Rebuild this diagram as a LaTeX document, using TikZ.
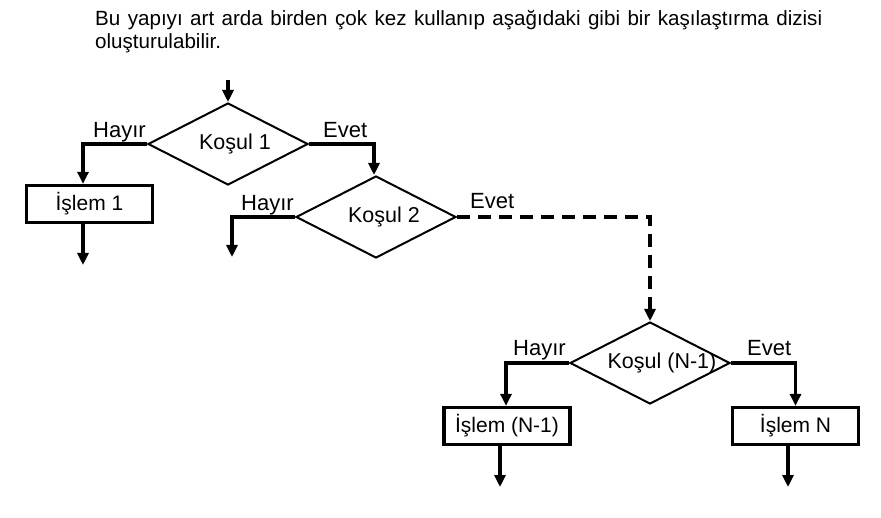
\documentclass[tikz,border=0pt]{standalone}
\usepackage{fontspec}
\setmainfont{Liberation Sans}
\usetikzlibrary{shapes.geometric,arrows.meta}
\tikzset{
  dia/.style={draw,shape=diamond,line width=2pt,minimum width=160pt,minimum height=82pt,inner sep=0pt,aspect=1.95},
  box/.style={draw,rectangle,line width=3.3pt,minimum width=126pt,minimum height=37pt,inner sep=0pt,font=\fontsize{21}{24}\selectfont},
  conn/.style={line width=3.2pt,-{Triangle[width=11pt,length=12pt]}},
  dconn/.style={conn,dash pattern=on 13pt off 8pt},
  lbl/.style={font=\fontsize{22}{24}\selectfont,inner sep=0pt},
  dtext/.style={font=\fontsize{21.5}{24}\selectfont,inner sep=0pt},
  ttl/.style={anchor=base west,inner sep=0pt,font=\fontsize{20.6}{23}\selectfont}
}
\begin{document}
\begin{tikzpicture}[x=1pt,y=-1pt]
\useasboundingbox (0,0) rectangle (881,518);
\node[ttl] (title1) at (95,26)
  {\makebox[727pt][s]{Bu yapıyı art arda birden çok kez kullanıp aşağıdaki gibi bir kaşılaştırma dizisi}};
\node[ttl] (title2) at (95,49) {oluşturulabilir.};
% nodes
\coordinate (s0) at (228,80);
\node[dia] (k1) at (228,144) {};
\node[dtext] at ([xshift=7pt]k1.center) {Koşul 1};
\node[box] (b1) at (89.5,204) {İşlem 1};
\coordinate (e1) at (83,265);
\node[dia] (k2) at (376,217) {};
\node[dtext] at ([xshift=8pt]k2.center) {Koşul 2};
\coordinate (e2) at (232,257);
\node[dia] (kn) at (650,363) {};
\node[dtext] at ([xshift=12pt]kn.center) {Koşul (N-1)};
\node[box] (bn1) at (507,426) {İşlem (N-1)};
\coordinate (e3) at (500,487);
\node[box] (bn) at (795.5,426) {İşlem N};
\coordinate (e4) at (788,487);
% connectors
\draw[conn] (s0) -- (k1.north);
\draw[conn] (k1.west) -| ([xshift=-6.5pt]b1.north);
\draw[conn] ([xshift=-6.5pt]b1.south) -- (e1);
\draw[conn] (k1.east) -| ([xshift=-2pt]k2.north);
\draw[conn] (k2.west) -| (e2);
\draw[dconn] (k2.east) -| (kn.north);
\draw[conn] (kn.west) -| ([xshift=-1pt]bn1.north);
\draw[conn] ([xshift=-7pt]bn1.south) -- (e3);
\draw[conn] (kn.east) -| (bn.north);
\draw[conn] ([xshift=-7.5pt]bn.south) -- (e4);
% labels
\node[lbl,anchor=base east] at ([xshift=-1pt,yshift=6pt]k1.west) {Hayır};
\node[lbl,anchor=base west] at ([xshift=14pt,yshift=6pt]k1.east) {Evet};
\node[lbl,anchor=base east] at ([xshift=-1pt,yshift=6pt]k2.west) {Hayır};
\node[lbl,anchor=base west] at ([xshift=13pt,yshift=8pt]k2.east) {Evet};
\node[lbl,anchor=base east] at ([xshift=-3pt,yshift=7pt]kn.west) {Hayır};
\node[lbl,anchor=base west] at ([xshift=16pt,yshift=7pt]kn.east) {Evet};
\end{tikzpicture}
\end{document}
